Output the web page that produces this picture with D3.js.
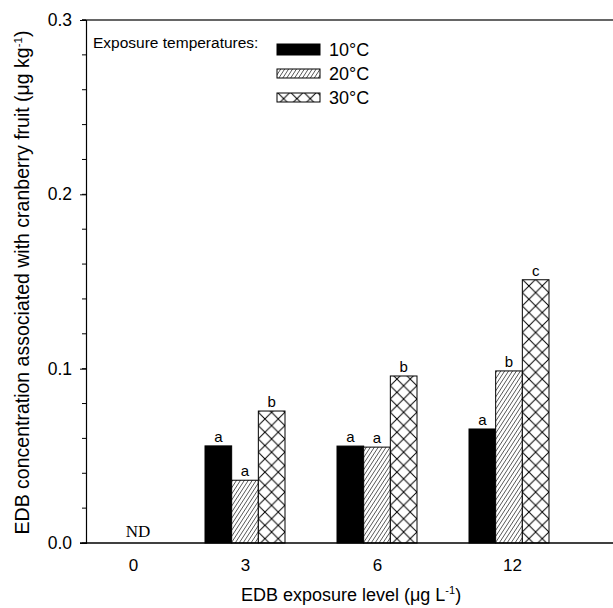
<!DOCTYPE html>
<html>
<head>
<meta charset="utf-8">
<script src="https://cdn.jsdelivr.net/npm/d3@7"></script>
<style>
  body { margin: 0; background: #fff; }
  text { font-family: "Liberation Sans", Arial, sans-serif; fill: #000; }
</style>
</head>
<body>
<svg id="chart" width="613" height="608"></svg>
<script>
// exposure levels (x categories) and temperatures (series)
const levels = ['0', '3', '6', '12'];
const temps = ['10°C', '20°C', '30°C'];
const tempKeys = ['t10', 't20', 't30'];

// EDB in fruit, ug/kg
const t10 = [0, 0.0557, 0.0556, 0.0654];
const t20 = [0, 0.036, 0.055, 0.0987];
const t30 = [0, 0.0757, 0.0958, 0.151];

// significance letters above bars
const letters10 = ['', 'a', 'a', 'a'];
const letters20 = ['', 'a', 'a', 'b'];
const letters30 = ['', 'b', 'b', 'c'];

const yTicks = [0.0, 0.1, 0.2, 0.3];
const yMinor = d3.range(0, 0.3001, 0.02);

const svg = d3.select('#chart');
const width = 613, height = 608;
const margin = { top: 20, right: 0, bottom: 65, left: 86 };
const plotBottom = height - margin.bottom;

// patterns
const defs = svg.append('defs');
const hatch = defs.append('pattern')
  .attr('id', 'hatch')
  .attr('patternUnits', 'userSpaceOnUse')
  .attr('width', 3.3).attr('height', 3.3)
  .attr('patternTransform', 'rotate(33)');
hatch.append('rect').attr('width', 3.3).attr('height', 3.3).attr('fill', '#fff');
hatch.append('line').attr('x1', 0).attr('y1', 0).attr('x2', 0).attr('y2', 3.3)
  .attr('stroke', '#000').attr('stroke-width', 1.1);

const cross = defs.append('pattern')
  .attr('id', 'cross')
  .attr('patternUnits', 'userSpaceOnUse')
  .attr('width', 13.3).attr('height', 13.3)
  .attr('x', 0).attr('y', 0);
cross.append('rect').attr('width', 13.3).attr('height', 13.3).attr('fill', '#fff');
cross.append('path').attr('d', 'M0,0L13.3,13.3M13.3,0L0,13.3')
  .attr('stroke', '#000').attr('stroke-width', 1).attr('fill', 'none');

const fills = { t10: '#000', t20: 'url(#hatch)', t30: 'url(#cross)' };

// scales
const x = d3.scalePoint()
  .domain(levels)
  .range([margin.left + 27, margin.left + 423]);

const xSub = d3.scaleBand()
  .domain(tempKeys)
  .range([-40, 40])
  .padding(0);

const y = d3.scaleLinear()
  .domain([0, 0.3])
  .range([plotBottom, margin.top]);

// rows for drawing
const rows = levels.map((lv, i) => ({
  level: lv,
  t10: t10[i], t20: t20[i], t30: t30[i],
  l10: letters10[i], l20: letters20[i], l30: letters30[i]
}));
const letterKey = { t10: 'l10', t20: 'l20', t30: 'l30' };

// frame top line (runs to the page edge)
svg.append('line')
  .attr('x1', margin.left - 4).attr('x2', width)
  .attr('y1', y(0.3)).attr('y2', y(0.3))
  .attr('stroke', '#333').attr('stroke-width', 1.4);

// bars
const groups = svg.append('g').selectAll('g')
  .data(rows.filter(r => r.t10 + r.t20 + r.t30 > 0))
  .join('g')
  .attr('transform', d => `translate(${x(d.level)},0)`);

groups.selectAll('rect')
  .data(d => tempKeys.map(k => ({ key: k, value: d[k], letter: d[letterKey[k]] })))
  .join('rect')
  .attr('x', d => xSub(d.key))
  .attr('width', xSub.bandwidth())
  .attr('y', d => y(d.value))
  .attr('height', d => y(0) - y(d.value))
  .attr('fill', d => fills[d.key])
  .attr('stroke', '#000')
  .attr('stroke-width', 1);

groups.selectAll('text.sig')
  .data(d => tempKeys.map(k => ({ key: k, value: d[k], letter: d[letterKey[k]] })))
  .join('text')
  .attr('class', 'sig')
  .attr('x', d => xSub(d.key) + xSub.bandwidth() / 2)
  .attr('y', d => y(d.value) - 4)
  .attr('text-anchor', 'middle')
  .style('font-size', '15px')
  .text(d => d.letter);

// ND for the zero level
svg.append('text')
  .attr('x', x('0') + 25)
  .attr('y', plotBottom - 6)
  .attr('text-anchor', 'middle')
  .style('font-family', '"Liberation Serif", "Times New Roman", serif')
  .style('font-size', '17px')
  .text('ND');

// y axis
const yAxis = svg.append('g')
  .attr('transform', `translate(${margin.left},0)`)
  .call(d3.axisLeft(y).tickValues(yTicks).tickFormat(d3.format('.1f')).tickSize(6).tickPadding(8));
yAxis.select('.domain').attr('stroke', '#000').attr('stroke-width', 1.2);
yAxis.selectAll('.tick line').attr('stroke', '#000');
yAxis.selectAll('.tick text')
  .style('font-family', '"Liberation Sans", Arial, sans-serif')
  .style('font-size', '17.5px');

svg.append('g')
  .selectAll('line')
  .data(yMinor)
  .join('line')
  .attr('x1', margin.left - 4).attr('x2', margin.left)
  .attr('y1', d => y(d)).attr('y2', d => y(d))
  .attr('stroke', '#000').attr('stroke-width', 1);

// x axis (no tick marks, line runs to the page edge)
const xAxis = svg.append('g')
  .attr('transform', `translate(0,${plotBottom})`)
  .call(d3.axisBottom(x).tickSize(0).tickPadding(16));
xAxis.select('.domain').remove();
xAxis.selectAll('.tick text')
  .style('font-family', '"Liberation Sans", Arial, sans-serif')
  .style('font-size', '17px')
  .attr('dx', d => d === '0' ? 20 : (d === '12' ? 3 : 0));
svg.append('line')
  .attr('x1', margin.left - 6).attr('x2', width)
  .attr('y1', plotBottom).attr('y2', plotBottom)
  .attr('stroke', '#000').attr('stroke-width', 1.4);

// axis titles
const xt = svg.append('text')
  .attr('x', 351).attr('y', 601)
  .attr('text-anchor', 'middle')
  .style('font-size', '18px');
xt.append('tspan').text('EDB exposure level (μg L');
xt.append('tspan').attr('dy', -7).style('font-size', '11px').text('-1');
xt.append('tspan').attr('dy', 7).text(')');

const yt = svg.append('text')
  .attr('transform', `translate(29,${(margin.top + plotBottom) / 2 + 1}) rotate(-90)`)
  .attr('text-anchor', 'middle')
  .style('font-size', '19.5px');
yt.append('tspan').text('EDB concentration associated with cranberry fruit (μg kg');
yt.append('tspan').attr('dy', -7).style('font-size', '11.5px').text('-1');
yt.append('tspan').attr('dy', 7).text(')');

// legend
svg.append('text')
  .attr('x', 93).attr('y', 48)
  .style('font-size', '15.5px')
  .text('Exposure temperatures:');

const legend = svg.append('g')
  .selectAll('g')
  .data(tempKeys)
  .join('g')
  .attr('transform', (d, i) => `translate(277,${44 + i * 24})`);
legend.append('rect')
  .attr('y', (d, i) => i === 0 ? 0 : 1)
  .attr('width', 43).attr('height', (d, i) => i === 0 ? 11 : 9)
  .attr('fill', d => fills[d])
  .attr('stroke', '#000').attr('stroke-width', 1);
legend.append('text')
  .attr('x', 52).attr('y', 12)
  .style('font-size', '18px')
  .text((d, i) => temps[i]);
</script>
</body>
</html>
